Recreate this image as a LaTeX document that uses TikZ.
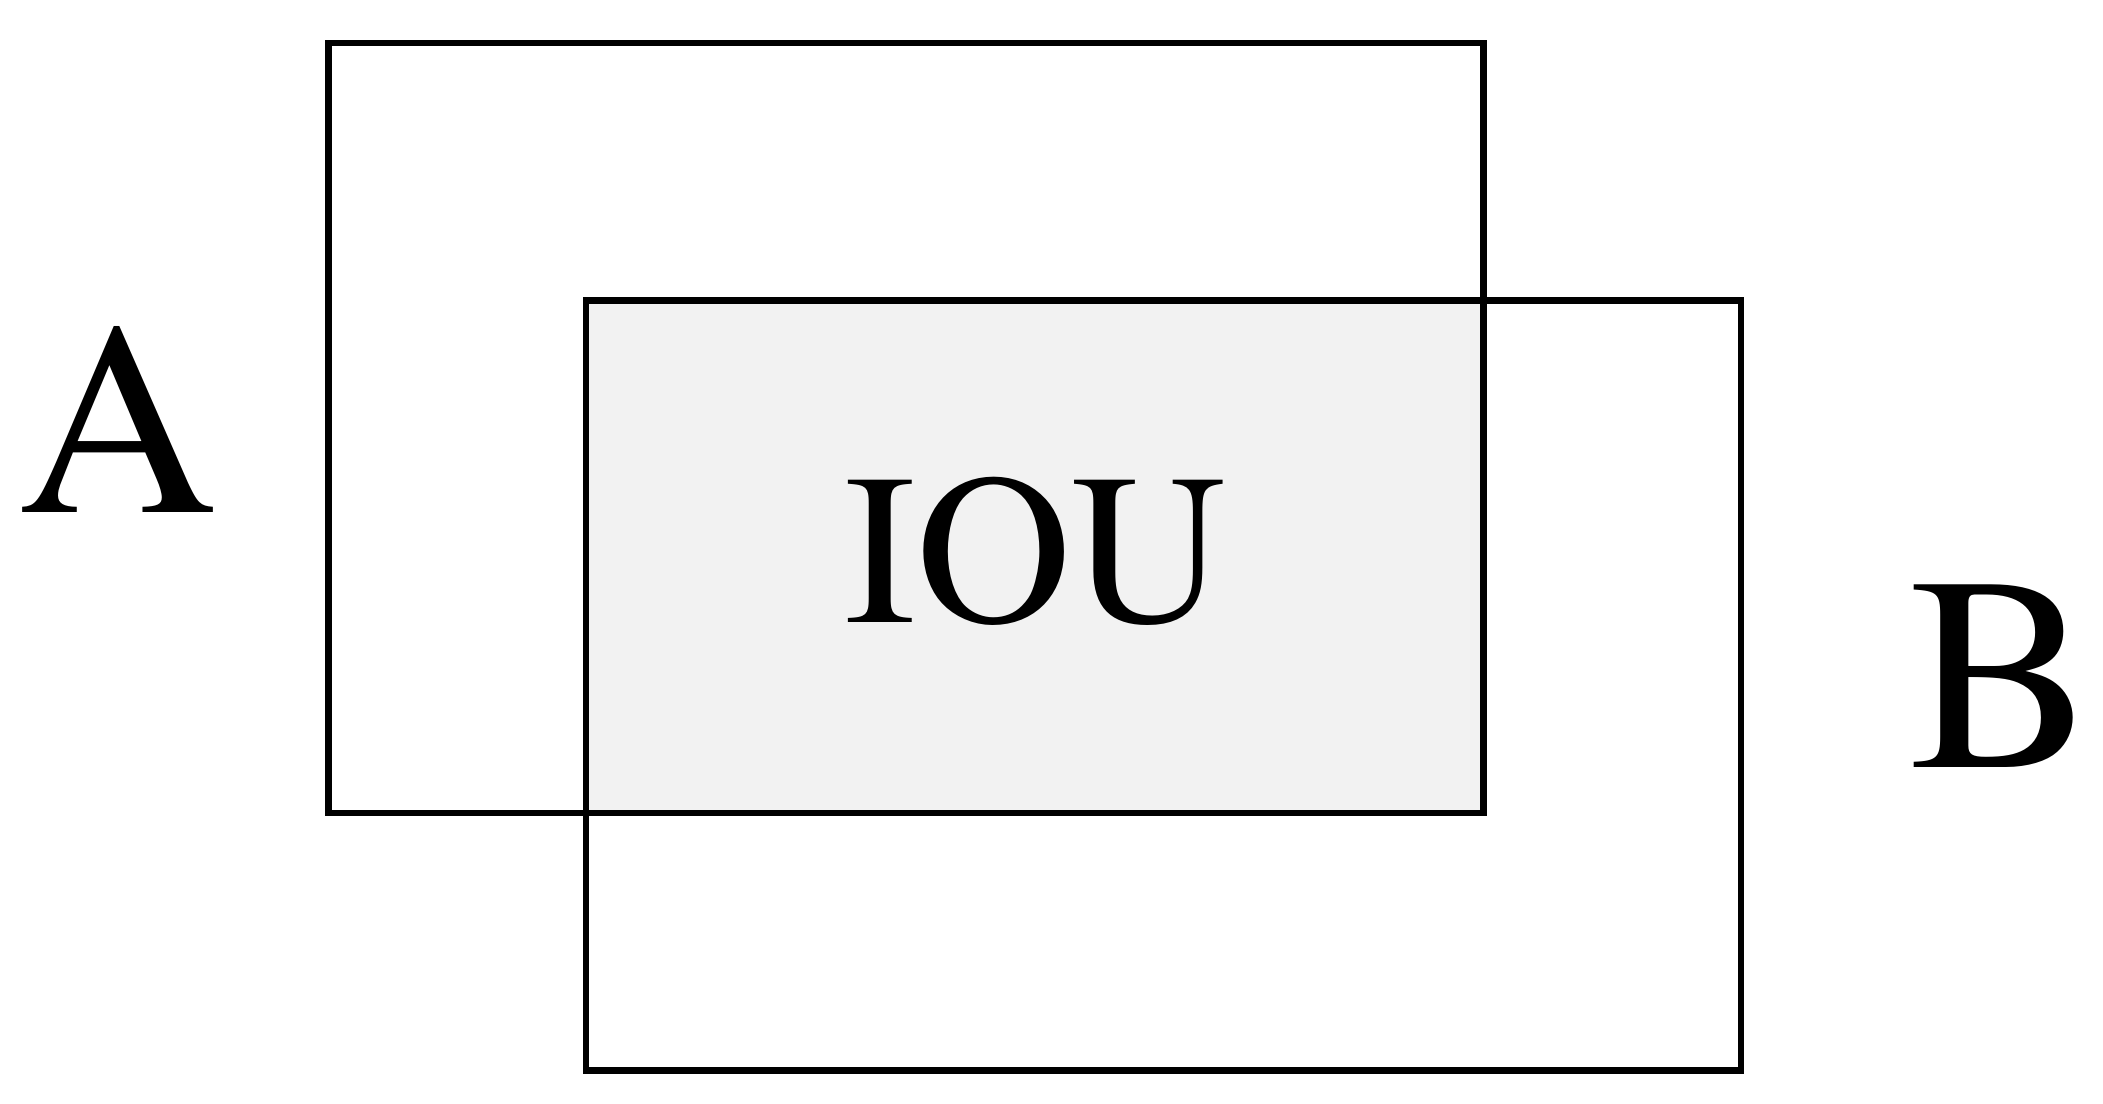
\documentclass[tikz,border=0pt]{standalone}
\usepackage[T1]{fontenc}
\usepackage{mathptmx}
\begin{document}
\begin{tikzpicture}[x=1pt,y=-1pt,
  boxline/.style={line width=6.5pt, line join=miter},
  big/.style={inner sep=0pt, anchor=base, font=\fontfamily{ptm}\fontsize{276}{276}\selectfont},
  mid/.style={inner sep=0pt, anchor=base, font=\fontfamily{ptm}\fontsize{215}{215}\selectfont}]
\useasboundingbox (0,0) rectangle (2103,1103);
\fill[white] (0,0) rectangle (2103,1103);
\fill[fill={rgb,255:red,242;green,242;blue,242}] (586,300.4) rectangle (1483.4,812.8);
\draw[boxline] (328.6,42.9) rectangle (1483.4,812.8);
\draw[boxline] (586,300.4) rectangle (1741,1070.3);
\node[big] (a) at (118,512) {A};
\node[big] (b) at (2002,767) {B};
\node[mid] (iou) at (1036,622) {IOU};
\end{tikzpicture}
\end{document}
